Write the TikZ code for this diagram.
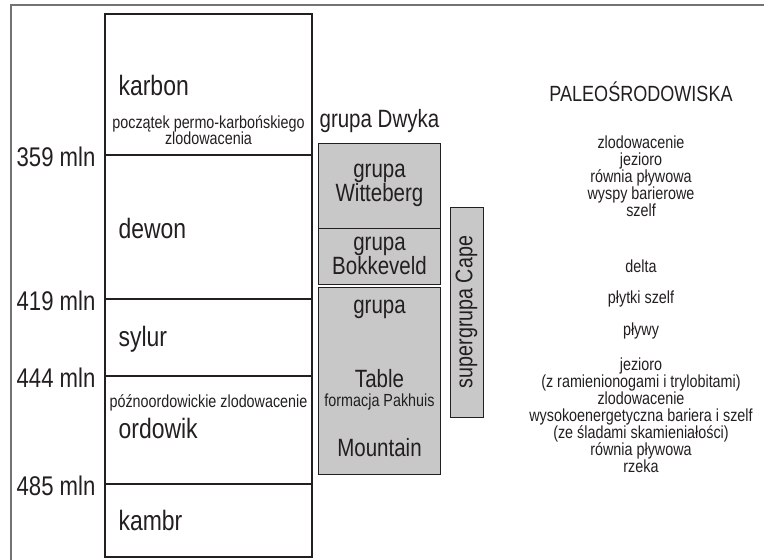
\documentclass[tikz,border=0pt]{standalone}
\usepackage{fontspec}
\setmainfont[FakeStretch=0.82]{Liberation Sans}
\definecolor{boxgray}{RGB}{200,200,200}
\definecolor{ink}{RGB}{35,31,32}
\tikzset{
%Define text styles
age/.style={anchor=base east, inner sep=0pt, font=\fontsize{27}{30}\selectfont},
period/.style={anchor=base west, inner sep=0pt, font=\fontsize{28}{30}\selectfont},
note/.style={align=center, inner sep=0pt, font=\fontsize{17.5}{16.5}\selectfont},
envlist/.style={align=center, inner sep=0pt, font=\fontsize{17.5}{17}\selectfont},
grouptext/.style={inner sep=0pt, font=\fontsize{25}{24.5}\selectfont},
%Define style for the grey boxes
groupbox/.style={draw=ink, fill=boxgray, line width=1pt, minimum width=122pt, inner sep=0pt, align=center, font=\fontsize{25}{24.5}\selectfont},
}

\begin{document}
\begin{tikzpicture}[x=1pt, y=-1pt, line width=1.2pt, color=ink]
\useasboundingbox (0,0) rectangle (764,560);

% outer frame
\draw[black!55] (11,560) |- (764,5);

% time column
\draw (105,14) rectangle (312,557);
\foreach \age/\yy in {359/155, 419/299, 444/376, 485/484} {
  \draw (105,\yy) -- (312,\yy);
  \node[age] (age\age) at (96,\yy+11) {\age\ mln};
}

% periods
\node[period] (karbon) at (118,95) {karbon};
\node[period] (dewon) at (118,238) {dewon};
\node[period] (sylur) at (118,346) {sylur};
\node[period] (ordowik) at (118,438) {ordowik};
\node[period] (kambr) at (118,530) {kambr};
\node[note, anchor=north] (permokarbon) at (208.5,115) {początek permo-karbońskiego\\zlodowacenia};
\node[note, anchor=base] (ordglacial) at (208.5,407) {późnoordowickie zlodowacenie};

% groups
\node[grouptext, anchor=base west] (dwyka) at (319,127) {grupa Dwyka};
\node[groupbox, minimum height=85pt] (witteberg) at (379.5,185.5) {grupa\\Witteberg};
\node[groupbox, minimum height=56pt] (bokkeveld) at (379.5,256) {grupa\\Bokkeveld};
\node[groupbox, minimum height=187pt] (tablemtn) at (379.5,380.5) {};
\node[grouptext, anchor=base] (tablemtn1) at (379.5,313) {grupa};
\node[grouptext, anchor=base] (tablemtn2) at (379.5,387) {Table};
\node[note, anchor=base] (pakhuis) at (379.5,406) {formacja Pakhuis};
\node[grouptext, anchor=base] (tablemtn3) at (379.5,456) {Mountain};

% supergroup
\node[groupbox, rotate=90, minimum width=210pt, minimum height=33pt, font=\fontsize{24}{24}\selectfont] (cape) at (466.5,312) {supergrupa Cape};

% palaeoenvironments
\node[anchor=base, inner sep=0pt, font=\fontsize{22}{22}\selectfont] (paleo) at (641,101) {PALEOŚRODOWISKA};
\node[envlist, anchor=north] (env1) at (641,135.5) {zlodowacenie\\jezioro\\równia pływowa\\wyspy barierowe\\szelf};
\node[envlist, anchor=base] (delta) at (641,272) {delta};
\node[envlist, anchor=base] (shelf) at (641,303) {płytki szelf};
\node[envlist, anchor=base] (tides) at (641,335) {pływy};
\node[envlist, anchor=north] (env2) at (641,357) {jezioro\\(z ramienionogami i trylobitami)\\zlodowacenie\\wysokoenergetyczna bariera i szelf\\(ze śladami skamieniałości)\\równia pływowa\\rzeka};

\end{tikzpicture}
\end{document}
